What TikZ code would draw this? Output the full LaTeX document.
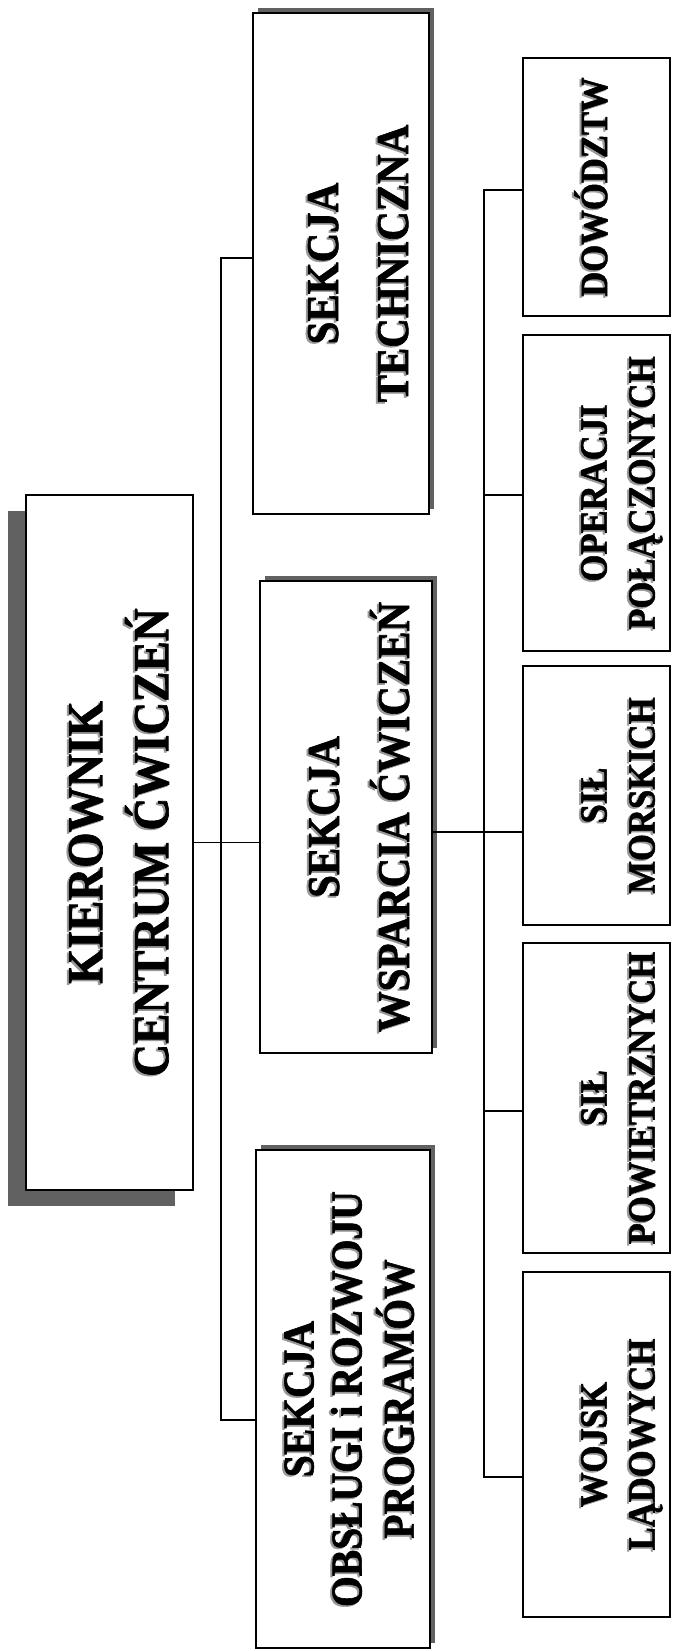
\documentclass[tikz,border=0pt]{standalone}
\usepackage{fontspec}
\setmainfont{Liberation Serif}[FakeStretch=0.9, BoldFeatures={FakeBold=1.3}]
\usetikzlibrary{shadows}
% rotated multi-line label with a soft gray text shadow
\newcommand{\rtext}[2]{\hspace*{#1}\rotatebox{90}{%
  \makebox[0pt][l]{\hspace*{-1.6pt}\raisebox{2pt}{\color{black!40}\begin{tabular}{@{}c@{}}#2\end{tabular}}}%
  \begin{tabular}{@{}c@{}}#2\end{tabular}}}
\begin{document}
\begin{tikzpicture}[x=1pt,y=-1pt,
  box/.style={draw=black, line width=2pt, fill=white, inner sep=0pt, align=center},
  topshadow/.style={general shadow={fill=black!62, shadow xshift=5pt, shadow yshift=5pt}},
  bigshadow/.style={general shadow={fill=black!62, shadow xshift=-18pt, shadow yshift=-16pt}},
  kfont/.style={font=\bfseries\fontsize{50.5}{66}\selectfont},
  sfont/.style={font=\bfseries\fontsize{45.5}{70}\selectfont},
  ofont/.style={font=\bfseries\fontsize{44}{48}\selectfont},
  bfont/.style={font=\bfseries\fontsize{38.5}{48}\selectfont},
  ln/.style={draw=black, line width=1.4pt}]
\useasboundingbox (0,0) rectangle (673,1651);
\fill[white] (0,0) rectangle (673,1651);

% main box
\node[box, bigshadow, kfont, minimum width=167pt, minimum height=695pt] (kier) at (109.5,842.5)
  {\rtext{23pt}{KIEROWNIK\\CENTRUM ĆWICZEŃ}};

% sections
\node[box, topshadow, sfont, minimum width=172pt, minimum height=501pt] (tech) at (341,263.5)
  {\rtext{34pt}{SEKCJA\\TECHNICZNA}};
\node[box, topshadow, sfont, minimum width=172pt, minimum height=472pt] (wsp) at (346,817)
  {\rtext{26pt}{SEKCJA\\WSPARCIA ĆWICZEŃ}};
\node[box, topshadow, ofont, minimum width=174pt, minimum height=498pt] (obs) at (343,1399)
  {\rtext{20pt}{SEKCJA\\OBSŁUGI i ROZWOJU\\PROGRAMÓW}};

% bottom boxes
\node[box, bfont, minimum width=147pt, minimum height=258pt] (dow) at (596.5,187)
  {\rtext{0pt}{DOWÓDZTW}};
\node[box, bfont, minimum width=147pt, minimum height=316pt] (ope) at (596.5,493)
  {\rtext{47pt}{OPERACJI\\POŁĄCZONYCH}};
\node[box, bfont, minimum width=147pt, minimum height=259pt] (mor) at (596.5,795.5)
  {\rtext{47pt}{SIŁ\\MORSKICH}};
\node[box, bfont, minimum width=147pt, minimum height=310pt] (pow) at (596.5,1098)
  {\rtext{47pt}{SIŁ\\POWIETRZNYCH}};
\node[box, bfont, minimum width=147pt, minimum height=345pt] (woj) at (596.5,1444.5)
  {\rtext{47pt}{WOJSK\\LĄDOWYCH}};

% left trunk
\coordinate (ta) at (221,258);
\coordinate (tb) at (221,1420);
\draw[ln] (tech.west |- ta) -- (ta) -- (tb) -- (obs.west |- tb);
\draw[ln] (kier.east) -- (kier.east -| wsp.west);

% right bus
\coordinate (ba) at (484,190);
\coordinate (bb) at (484,1477);
\coordinate (bm) at (484,832);
\coordinate (bo) at (484,495);
\coordinate (bp) at (484,1111);
\draw[ln] (wsp.east |- bm) -- (bm) -- (bm -| mor.west);
\draw[ln] (dow.west |- ba) -- (ba) -- (bb) -- (woj.west |- bb);
\draw[ln] (bo) -- (bo -| ope.west);
\draw[ln] (bp) -- (bp -| pow.west);
\end{tikzpicture}
\end{document}
